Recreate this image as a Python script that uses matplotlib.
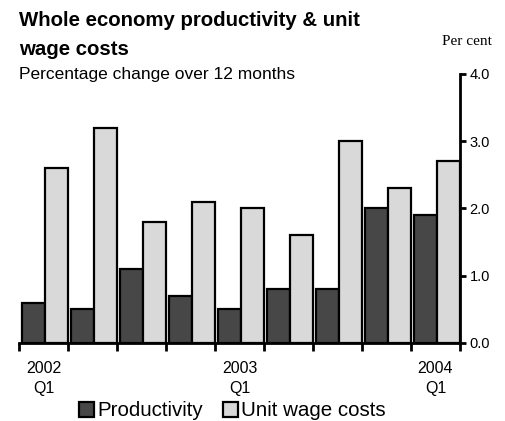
import matplotlib.pyplot as plt
import numpy as np

plt.rcParams['font.family'] = ['Liberation Sans', 'DejaVu Sans']

quarters = ['2002\nQ1', '', '', '', '2003\nQ1', '', '', '', '2004\nQ1']
productivity = [0.6, 0.5, 1.1, 0.7, 0.5, 0.8, 0.8, 2.0, 1.9]
unit_wage_costs = [2.6, 3.2, 1.8, 2.1, 2.0, 1.6, 3.0, 2.3, 2.7]
yticks = [0.0, 1.0, 2.0, 3.0, 4.0]

W, H = 506, 421
fig = plt.figure(figsize=(W / 100, H / 100), dpi=100)
ax = fig.add_axes([19 / W, (H - 343) / H, 441 / W, 269 / H])

x = np.arange(len(quarters))
w = 0.46
off = 0.03
ax.bar(x - w/2 + off, productivity, w, color='#474747', edgecolor='black', linewidth=1.6,
       label='Productivity')
ax.bar(x + w/2 + off, unit_wage_costs, w, color='#d9d9d9', edgecolor='black', linewidth=1.6,
       label='Unit wage costs')

ax.set_xlim(-0.5, len(quarters) - 0.5)
ax.set_ylim(0, 4)

# only bottom and right spines
for s in ['left', 'top']:
    ax.spines[s].set_visible(False)
for s in ['bottom', 'right']:
    ax.spines[s].set_linewidth(2)

ax.yaxis.tick_right()
ax.set_yticks(yticks)
ax.set_yticklabels(['%.1f' % v for v in yticks], fontsize=10.5)
ax.tick_params(axis='y', direction='out', length=4, width=2, pad=3)

# ticks at group boundaries, labels at group centres
ax.set_xticks(np.arange(len(quarters) + 1) - 0.5)
ax.set_xticklabels([])
ax.tick_params(axis='x', which='major', direction='out', length=6, width=2)
ax.set_xticks(x, minor=True)
ax.set_xticklabels(quarters, minor=True, fontsize=11.5, linespacing=1.45)
ax.tick_params(axis='x', which='minor', length=0, pad=13)

fig.text(19 / W, 1 - 26 / H, 'Whole economy productivity & unit', fontsize=14.7,
         fontweight='bold', va='baseline', ha='left')
fig.text(19 / W, 1 - 55 / H, 'wage costs', fontsize=14.7,
         fontweight='bold', va='baseline', ha='left')
fig.text(19 / W, 1 - 79 / H, 'Percentage change over 12 months', fontsize=12.5,
         va='baseline', ha='left')
fig.text(492 / W, 1 - 45 / H, 'Per cent', fontsize=11, family='Liberation Serif',
         ha='right', va='baseline')

fig.legend(loc='center left', bbox_to_anchor=(79 / W, 1 - 411 / H), ncol=2, frameon=False,
           fontsize=14.8, handlelength=0.72, handleheight=0.72, handletextpad=0.15,
           columnspacing=1.0, borderaxespad=0, borderpad=0)

fig.savefig('out.png', dpi=100)
